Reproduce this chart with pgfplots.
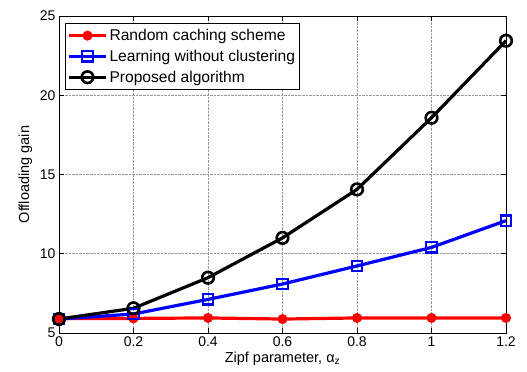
\documentclass[border=0pt]{standalone}
\usepackage{fontspec}
\setmainfont{Liberation Sans}
\usepackage{pgfplots}
\pgfplotsset{compat=1.18}
\begin{document}
\begin{tikzpicture}
\begin{axis}[
  scale only axis,
  width=447bp, height=317bp,
  xmin=0, xmax=1.2, ymin=5, ymax=25,
  xtick={0,0.2,0.4,0.6,0.8,1,1.2},
  xticklabels={0,0.2,0.4,0.6,0.8,1,1.2},
  ytick={5,10,15,20,25},
  /pgf/number format/assume math mode=true,
  tick label style={font=\fontsize{14bp}{16bp}\selectfont},
  label style={font=\fontsize{14.5bp}{17bp}\selectfont},
  xticklabel style={yshift=0bp},
  tick align=inside,
  major tick length=5bp,
  tick style={black, line width=0.5bp},
  axis line style={black, line width=0.9bp},
  grid=major,
  major grid style={densely dotted, gray!80, line width=0.5bp},
  xlabel={Zipf parameter, α\textsubscript{z}},
  ylabel={Offloading gain},
  xlabel style={yshift=1bp},
  ylabel style={yshift=1bp},
  legend style={at={(rel axis cs:0.0135,0.977)}, anchor=north west,
    font=\fontsize{15.6bp}{18bp}\selectfont, draw=black, line width=0.9bp,
    inner xsep=2bp, inner ysep=3.5bp, row sep=4bp,
    cells={anchor=west}},
  legend cell align=left,
  legend image code/.code={
    \draw[mark repeat=2,mark phase=2,#1] plot coordinates {(0cm,0cm) (0.65cm,0cm) (1.3cm,0cm)};
  },
]
\addplot[red, line width=3.2bp, mark=*, mark size=4.5bp, mark options={solid, fill=red, line width=1bp}]
  coordinates {(0,5.92) (0.2,5.92) (0.4,5.95) (0.6,5.88) (0.8,5.95) (1,5.95) (1.2,5.95)};
\addlegendentry{Random caching scheme}
\addplot[blue, line width=3.2bp, mark=square, mark size=5.2bp, mark options={solid, line width=2.3bp}]
  coordinates {(0,5.88) (0.2,6.2) (0.4,7.12) (0.6,8.09) (0.8,9.23) (1,10.4) (1.2,12.09)};
\addlegendentry{Learning without clustering}
\addplot[black, line width=3.2bp, mark=o, mark size=5.8bp, mark options={solid, line width=2.6bp}]
  coordinates {(0,5.88) (0.2,6.56) (0.4,8.49) (0.6,11.0) (0.8,14.06) (1,18.58) (1.2,23.44)};
\addlegendentry{Proposed algorithm}
\end{axis}
\pgfresetboundingbox
\path ([xshift=-59bp,yshift=-39bp]current axis.south west) rectangle ([xshift=21bp,yshift=16bp]current axis.north east);
\end{tikzpicture}
\end{document}
